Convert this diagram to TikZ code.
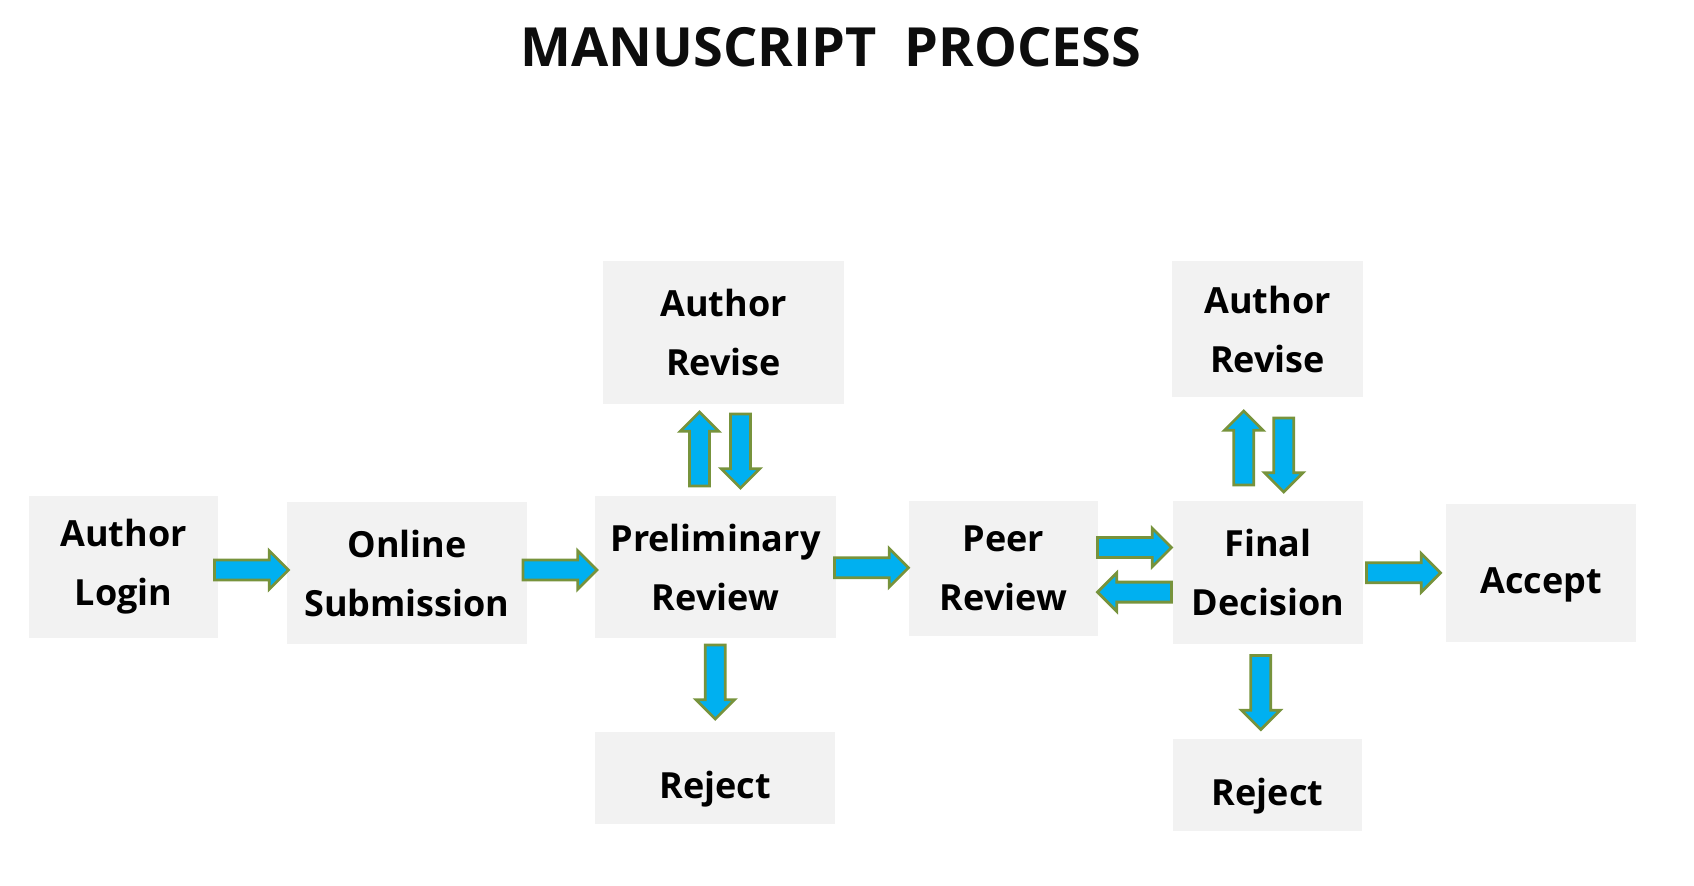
\documentclass[tikz,border=0pt]{standalone}
\usepackage{fontspec}
\setmainfont{Open Sans}
\usepackage{tikz}
\usetikzlibrary{calc, shapes.arrows}

\definecolor{boxgray}{HTML}{F2F2F2}
\definecolor{flowblue}{HTML}{00B0F0}
\definecolor{flowgreen}{HTML}{77933C}
\definecolor{titleink}{HTML}{0D0D0D}

\begin{document}
\begin{tikzpicture}[
    x=0.5pt, y=-0.5pt,
    stepBox/.style={rectangle, fill=boxgray, inner sep=0pt, align=center,
        font=\fontsize{18}{29.5}\selectfont\bfseries},
    oneLine/.style={text height=24pt, text depth=4pt},
    arrowBase/.style={single arrow, fill=flowblue, draw=flowgreen, line width=1.4pt,
        inner sep=4.3pt, single arrow head extend=4.6pt, minimum height=37pt},
    flowArrow/.style={arrowBase, xshift=-3pt},
    backArrow/.style={arrowBase, shape border rotate=180, xshift=2pt},
    upArrow/.style={arrowBase, shape border rotate=90, yshift=-2pt},
    downArrow/.style={arrowBase, shape border rotate=270, yshift=2pt}
]
    \useasboundingbox (0,0) rectangle (1694,885);

    % Title
    \node[font=\fontsize{27}{33}\selectfont\bfseries, text=titleink] (title) at (831,47) {MANUSCRIPT\ \ PROCESS};

    % Main row
    \node[stepBox, minimum width=94.5pt, minimum height=71pt] (login)  at (123.5,567) {Author\\Login};
    \node[stepBox, minimum width=120pt, minimum height=71pt]  (submit) at (407,573)   {Online\\Submission};
    \node[stepBox, minimum width=120.5pt, minimum height=71pt] (prelim) at (715.5,567) {Preliminary\\Review};
    \node[stepBox, minimum width=94.5pt, minimum height=67.5pt] (peer)  at (1003.5,568.5) {Peer\\Review};
    \node[stepBox, minimum width=95pt, minimum height=71.5pt] (final)  at (1268,572.5) {Final\\Decision};
    \node[stepBox, oneLine, minimum width=95pt, minimum height=69pt] (accept) at (1541,573) {Accept};

    % Revise and reject boxes
    \node[stepBox, minimum width=120.5pt, minimum height=71.5pt] (reviseA) at (723.5,332.5) {Author\\Revise};
    \node[stepBox, minimum width=95.5pt, minimum height=68pt] (reviseB) at (1267.5,329) {Author\\Revise};
    \node[stepBox, oneLine, minimum width=120pt, minimum height=46pt] (rejectA) at (715,778) {Reject};
    \node[stepBox, oneLine, minimum width=94.5pt, minimum height=46pt] (rejectB) at (1267.5,785) {Reject};

    % Arrows along the main row
    \node[flowArrow] (a1) at ($(login.east)!.5!(submit.west)$) {};
    \node[flowArrow] (a2) at ($(submit.east)!.5!(prelim.west)$) {};
    \node[flowArrow] (a3) at ($(prelim.east)!.5!(peer.west)$) {};
    \node[flowArrow, yshift=11.5pt] (a4) at ($(peer.east)!.5!(final.west)$) {};
    \node[backArrow, yshift=-10.8pt] (a5) at ($(peer.east)!.5!(final.west)$) {};
    \node[flowArrow] (a6) at ($(final.east)!.5!(accept.west)$) {};

    % Revise loops
    \node[upArrow, xshift=-10pt] (u1) at ($(prelim.north)!.5!(reviseA.south)$) {};
    \node[downArrow, xshift=10.5pt] (d1) at ($(prelim.north)!.5!(reviseA.south)$) {};
    \node[upArrow, xshift=-12pt] (u2) at ($(final.north)!.5!(reviseB.south)$) {};
    \node[downArrow, xshift=8pt, yshift=-2.5pt] (d2) at ($(final.north)!.5!(reviseB.south)$) {};

    % Rejections
    \node[downArrow, yshift=2pt] (r1) at ($(prelim.south)!.5!(rejectA.north)$) {};
    \node[downArrow, xshift=-3.5pt] (r2) at ($(final.south)!.5!(rejectB.north)$) {};
\end{tikzpicture}
\end{document}
